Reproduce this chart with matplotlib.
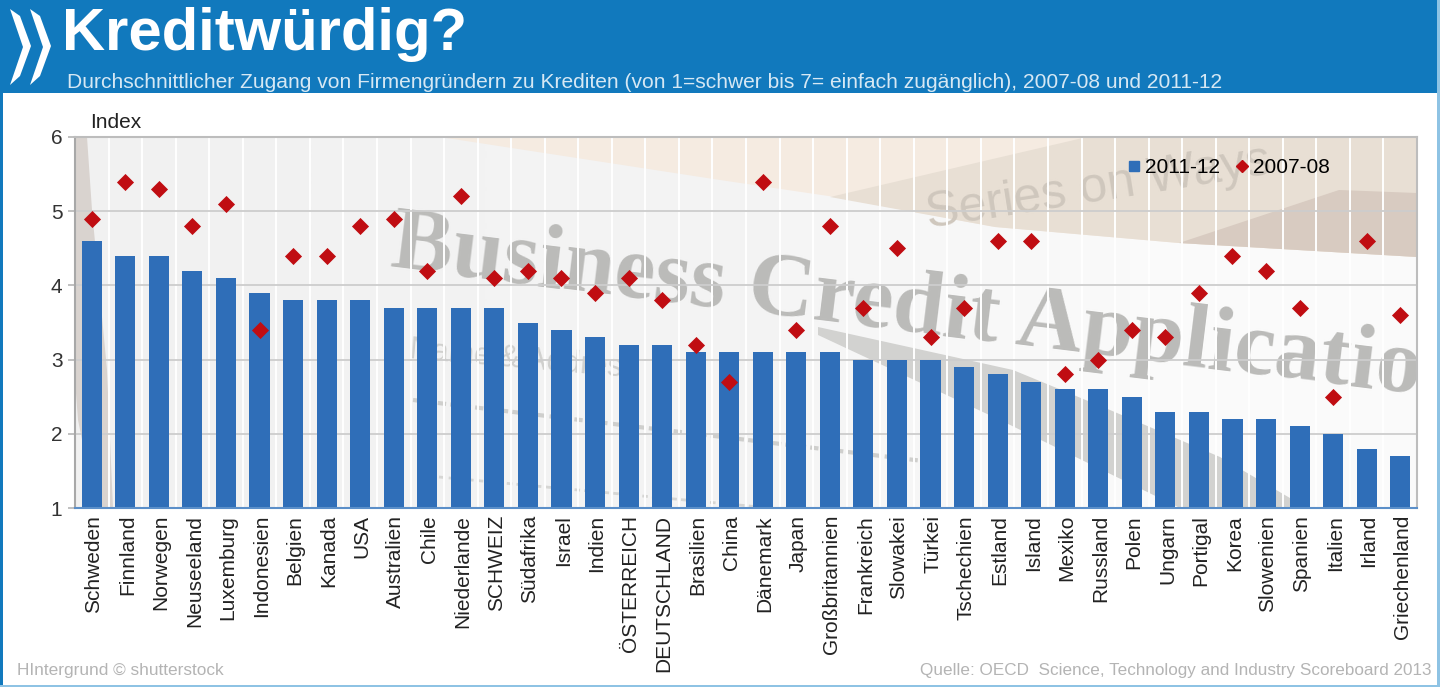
import matplotlib
matplotlib.use("Agg")
import matplotlib.pyplot as plt
from matplotlib.lines import Line2D
from matplotlib.patches import Polygon, Rectangle
from matplotlib.transforms import ScaledTranslation

plt.rcParams['font.family'] = ['Liberation Sans', 'DejaVu Sans']

# Daten
countries = ["Schweden", "Finnland", "Norwegen", "Neuseeland", "Luxemburg", "Indonesien", "Belgien", "Kanada",
             "USA", "Australien", "Chile", "Niederlande", "SCHWEIZ", "Südafrika", "Israel", "Indien",
             "ÖSTERREICH", "DEUTSCHLAND", "Brasilien", "China", "Dänemark", "Japan", "Großbritannien",
             "Frankreich", "Slowakei", "Türkei", "Tschechien", "Estland", "Island", "Mexiko", "Russland",
             "Polen", "Ungarn", "Portigal", "Korea", "Slowenien", "Spanien", "Italien", "Irland", "Griechenland"]
values_2011 = [4.6, 4.4, 4.4, 4.2, 4.1, 3.9, 3.8, 3.8, 3.8, 3.7, 3.7, 3.7, 3.7, 3.5, 3.4, 3.3, 3.2, 3.2, 3.1, 3.1,
               3.1, 3.1, 3.1, 3.0, 3.0, 3.0, 2.9, 2.8, 2.7, 2.6, 2.6, 2.5, 2.3, 2.3, 2.2, 2.2, 2.1, 2.0, 1.8, 1.7]
values_2007 = [4.9, 5.4, 5.3, 4.8, 5.1, 3.4, 4.4, 4.4, 4.8, 4.9, 4.2, 5.2, 4.1, 4.2, 4.1, 3.9, 4.1, 3.8, 3.2, 2.7,
               5.4, 3.4, 4.8, 3.7, 4.5, 3.3, 3.7, 4.6, 4.6, 2.8, 3.0, 3.4, 3.3, 3.9, 4.4, 4.2, 3.7, 2.5, 4.6, 3.6]
yticks = [1, 2, 3, 4, 5, 6]

W, H = 1440, 687
BLUE = '#1179bd'
BAR_BLUE = '#2f6eb8'
RED = '#c00d12'

fig = plt.figure(figsize=(W / 100, H / 100), dpi=100)

def px(x0, y0, x1, y1):
    # Pixel von oben links -> Figurenkoordinaten
    return [x0 / W, 1 - y1 / H, (x1 - x0) / W, (y1 - y0) / H]

# Hintergrundfoto grob nachgebaut, in Pixeln
bg = fig.add_axes(px(75, 137, 1417, 508))
bg.imshow([[0.945, 0.955, 0.98]], extent=(75, 1417, 508, 137), cmap='gray', vmin=0, vmax=1, aspect='auto',
          interpolation='bilinear')
bg.axis('off')
bg.add_patch(Polygon([(440, 137), (1417, 137), (1417, 257), (1179, 243), (995, 227), (835, 197), (720, 180)],
                     color='#f5ebe1', lw=0))
bg.add_patch(Polygon([(830, 197), (1087, 137), (1417, 137), (1417, 257), (1179, 243), (995, 227)],
                     color='#e8dfd4', lw=0))
bg.add_patch(Polygon([(1179, 243), (1339, 190), (1417, 193), (1417, 257)], color='#d8cbc1', lw=0))
bg.add_patch(Polygon([(75, 137), (87, 137), (92, 210), (107, 370), (113, 508), (96, 508), (78, 420), (75, 380)],
                     color='#d9d3cf', lw=0))
bg.add_patch(Polygon([(818, 327), (1013, 370), (1110, 410), (1220, 457), (1307, 508), (1180, 508), (1000, 420),
                      (818, 335)], color='#d2d2d0', lw=0))
bg.text(392, 245, "Business Credit Applicatio", family='Liberation Serif', fontweight='bold', fontsize=66,
        color='#bbbbb9', rotation=-7, rotation_mode='anchor', va='center', ha='left', clip_on=True)
bg.text(926, 215, "Series on Ways", fontsize=36, color='#cfc7bd',
        rotation=9, rotation_mode='anchor', va='center', ha='left', clip_on=True)
bg.text(410, 350, "Name & Address", fontsize=22, color='#d0d0ce',
        rotation=-5, rotation_mode='anchor', va='center', ha='left', clip_on=True)
bg.plot([413, 940], [400, 463], color='#cfcfcd', lw=3, ls=(0, (2, 1)))
bg.plot([439, 760], [477, 507], color='#d6d6d4', lw=2, ls=(0, (2, 1.5)))
bg.set_xlim(75, 1417)
bg.set_ylim(508, 137)

# Eigentliches Diagramm
ax = fig.add_axes(px(75, 137, 1417, 508))
ax.patch.set_visible(False)
x = list(range(len(countries)))
ax.set_xlim(-0.5, len(countries) - 0.5)
ax.set_ylim(1, 6)
ax.set_axisbelow(True)
ax.grid(axis='y', color='#cdcdcd', lw=1.3)
for pos in x[:-1]:
    ax.axvline(pos + 0.5, color='white', lw=1.4, zorder=0.5)

ax.bar(x, values_2011, bottom=0, width=0.6, color=BAR_BLUE, zorder=2)
ax.scatter(x, values_2007, marker='D', s=76, color=RED, lw=0, zorder=3)

ax.set_yticks(yticks)
ax.set_xticks(x)
ax.set_xticklabels(countries, rotation=90, fontsize=15, color='#222222')
ax.tick_params(axis='x', length=0, pad=5)
ax.tick_params(axis='y', length=5, width=1.2, color='#b5b5b5', labelsize=15, labelcolor='#333333', pad=4)
# Beschriftung sitzt im Original 2 px weiter rechts
shift = ScaledTranslation(2 / 100, 0, fig.dpi_scale_trans)
for label in ax.get_xticklabels():
    label.set_transform(label.get_transform() + shift)
for name, spine in ax.spines.items():
    spine.set_color('#bdbdbd')
    spine.set_linewidth(1.5)
ax.spines['left'].set_color('#a8a8a8')
ax.spines['bottom'].set_color('#5b8fc9')

handles = [Line2D([], [], ls='', marker='s', ms=7.5, color=BAR_BLUE, label='2011-12'),
           Line2D([], [], ls='', marker='D', ms=6, color=RED, label='2007-08')]
ax.legend(handles=handles, loc='upper left', bbox_to_anchor=(0.781, 0.943), ncol=2, frameon=False, fontsize=15,
          handletextpad=0.05, columnspacing=0.55, handlelength=1, borderpad=0, borderaxespad=0)

fig.text(90 / W, 1 - 122.5 / H, "Index", fontsize=15, color='#222222', va='center')

# Kopfzeile und Rahmen
fig.add_artist(Rectangle((0, 1 - 93 / H), 1, 93 / H, transform=fig.transFigure, color=BLUE, lw=0))
fig.add_artist(Rectangle((0, 0), 3 / W, 1, transform=fig.transFigure, color=BLUE, lw=0))
fig.add_artist(Rectangle((1437 / W, 0), 3 / W, 1, transform=fig.transFigure, color='#8ec3e4', lw=0))
fig.add_artist(Rectangle((0, 0), 1, 2 / H, transform=fig.transFigure, color='#8ec3e4', lw=0))
for dx in (0, 20):
    pts = [(10 + dx, 9), (20 + dx, 16), (31 + dx, 46), (20 + dx, 76), (10 + dx, 85), (23 + dx, 47)]
    fig.add_artist(Polygon([(p / W, 1 - q / H) for p, q in pts], transform=fig.transFigure, color='white', lw=0))
fig.text(62 / W, 1 - 34.5 / H, "Kreditwürdig?", fontsize=43, fontweight='bold', color='white', va='center')
fig.text(67 / W, 1 - 82 / H, "Durchschnittlicher Zugang von Firmengründern zu Krediten (von 1=schwer bis 7= einfach zugänglich), 2007-08 und 2011-12",
         fontsize=15.16, color='#d6e8f4', va='center')

fig.text(17 / W, 1 - 670 / H, "HIntergrund © shutterstock", fontsize=12.4, color='#b4b4b4', va='center')
fig.text(1431 / W, 1 - 670 / H, "Quelle: OECD  Science, Technology and Industry Scoreboard 2013", fontsize=12.35,
         color='#b4b4b4', va='center', ha='right')

fig.savefig('out.png', dpi=100)
